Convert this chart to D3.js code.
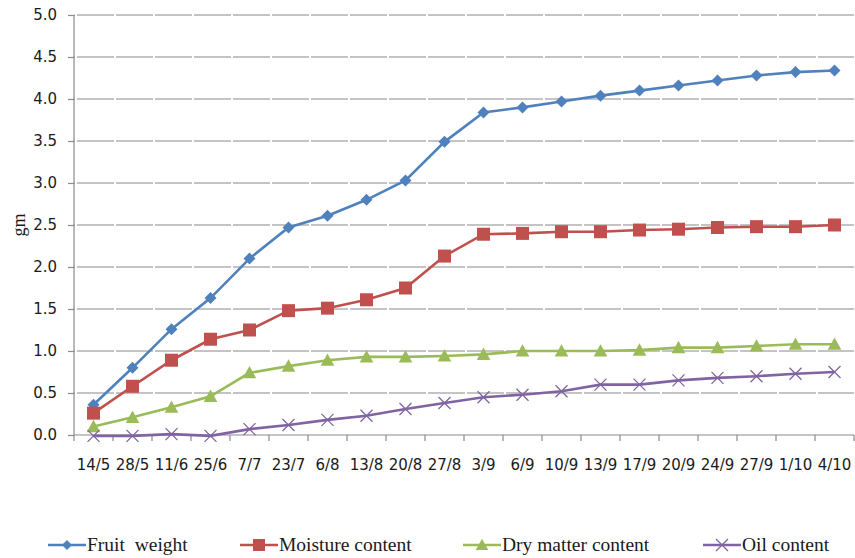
<!DOCTYPE html>
<html><head><meta charset="utf-8">
<script src="https://cdn.jsdelivr.net/npm/d3@7"></script>
<style>body{margin:0;background:#fff}svg{display:block}</style>
</head><body>
<svg id="c" width="855" height="558"></svg>
<script>
const categories = ["14/5","28/5","11/6","25/6","7/7","23/7","6/8","13/8","20/8","27/8","3/9","6/9","10/9","13/9","17/9","20/9","24/9","27/9","1/10","4/10"];
const fruitWeight = [0.36,0.80,1.26,1.63,2.10,2.47,2.61,2.80,3.03,3.49,3.84,3.90,3.97,4.04,4.10,4.16,4.22,4.28,4.32,4.34];
const moistureContent = [0.26,0.58,0.89,1.14,1.25,1.48,1.51,1.61,1.75,2.13,2.39,2.40,2.42,2.42,2.44,2.45,2.47,2.48,2.48,2.50];
const dryMatterContent = [0.10,0.21,0.33,0.46,0.74,0.82,0.89,0.93,0.93,0.94,0.96,1.00,1.00,1.00,1.01,1.04,1.04,1.06,1.08,1.08];
const oilContent = [-0.01,-0.01,0.01,-0.01,0.07,0.12,0.18,0.23,0.31,0.38,0.45,0.48,0.52,0.60,0.60,0.65,0.68,0.70,0.73,0.75];
const yTicks = [0,0.5,1,1.5,2,2.5,3,3.5,4,4.5,5];
const seriesNames = ["Fruit  weight","Moisture content","Dry matter content","Oil content"];

const series = [
  {name: seriesNames[0], values: fruitWeight, color: "#4F81BD", marker: "diamond"},
  {name: seriesNames[1], values: moistureContent, color: "#C0504D", marker: "square"},
  {name: seriesNames[2], values: dryMatterContent, color: "#9BBB59", marker: "triangle"},
  {name: seriesNames[3], values: oilContent, color: "#8064A2", marker: "x"}
];

const svg = d3.select("#c");
const L = 74, R = 854, T = 15, B = 435;
const x = d3.scaleBand().domain(categories).range([L, R]).padding(0);
const y = d3.scaleLinear().domain([0, 5]).range([B, T]);
const cx = c => x(c) + x.bandwidth() / 2;
const axisColor = "#8a8a8a";

// gridlines
svg.append("g").selectAll("line").data(yTicks.filter(v => v > 0)).join("line")
  .attr("x1", L).attr("x2", R).attr("y1", d => y(d)).attr("y2", d => y(d))
  .attr("stroke", axisColor).attr("stroke-width", 1.2)
  .attr("stroke-dasharray", "37,2").attr("stroke-dashoffset", -3);

// y axis
const yAxis = svg.append("g").attr("transform", `translate(${L},0)`)
  .call(d3.axisLeft(y).tickValues(yTicks).tickFormat(d3.format(".1f")).tickSize(6).tickPadding(11));
yAxis.selectAll("path,line").attr("stroke", axisColor).attr("stroke-width", 1.2);
yAxis.select(".domain").attr("d", `M0,${B}V${T}`);
yAxis.selectAll("text").attr("font-family", "DejaVu Sans, Verdana, sans-serif").attr("font-size", 15).attr("fill", "#1a1a1a");

// x axis
const xAxis = svg.append("g").attr("transform", `translate(0,${B})`)
  .call(d3.axisBottom(x).tickSize(0).tickPadding(24));
xAxis.select(".domain").attr("d", `M${L},0H${R}`).attr("stroke", axisColor).attr("stroke-width", 1.2);
xAxis.selectAll("text").attr("font-family", "DejaVu Sans, Verdana, sans-serif").attr("font-size", 15).attr("fill", "#1a1a1a");
xAxis.append("g").selectAll("line").data(d3.range(categories.length + 1)).join("line")
  .attr("x1", i => L + i * x.bandwidth()).attr("x2", i => L + i * x.bandwidth())
  .attr("y1", 0).attr("y2", 6).attr("stroke", axisColor).attr("stroke-width", 1.2);

// y axis title
svg.append("text").attr("transform", `translate(25,225) rotate(-90)`)
  .attr("text-anchor", "middle").attr("font-family", "Liberation Serif, Times New Roman, serif")
  .attr("font-size", 18).attr("fill", "#1a1a1a").text("gm");

function marker(g, type, color, px, py, s) {
  if (type === "diamond") {
    g.append("path").attr("d", `M${px},${py-s}L${px+s},${py}L${px},${py+s}L${px-s},${py}Z`).attr("fill", color);
  } else if (type === "square") {
    g.append("rect").attr("x", px - s).attr("y", py - s).attr("width", 2*s).attr("height", 2*s).attr("fill", color);
  } else if (type === "triangle") {
    g.append("path").attr("d", `M${px},${py-s*1.05}L${px+s*1.05},${py+s*0.85}L${px-s*1.05},${py+s*0.85}Z`).attr("fill", color);
  } else {
    g.append("path").attr("d", `M${px-s},${py-s}L${px+s},${py+s}M${px-s},${py+s}L${px+s},${py-s}`)
      .attr("stroke", color).attr("stroke-width", 1.3).attr("fill", "none");
  }
}
const sizes = {diamond: 6, square: 6.5, triangle: 6.5, x: 6};

const line = d3.line().x((d, i) => cx(categories[i])).y(d => y(d));
series.forEach(s => {
  const g = svg.append("g");
  g.append("path").attr("d", line(s.values)).attr("fill", "none").attr("stroke", s.color).attr("stroke-width", 2.6);
  s.values.forEach((v, i) => marker(g, s.marker, s.color, cx(categories[i]), y(v), sizes[s.marker]));
});

// legend
const legendX = [48, 240, 463, 703];
const legendY = 545;
series.forEach((s, i) => {
  const g = svg.append("g");
  const lx = legendX[i];
  g.append("line").attr("x1", lx).attr("x2", lx + 38).attr("y1", legendY).attr("y2", legendY)
    .attr("stroke", s.color).attr("stroke-width", 2.6);
  marker(g, s.marker, s.color, lx + 19, legendY, s.marker === "diamond" ? 5 : 6);
  g.append("text").attr("x", lx + 39).attr("y", legendY + 6)
    .attr("font-family", "Liberation Serif, Times New Roman, serif").attr("font-size", 19.5)
    .attr("fill", "#1a1a1a").text(s.name).attr("xml:space", "preserve").style("white-space", "pre");
});
</script>
</body></html>
